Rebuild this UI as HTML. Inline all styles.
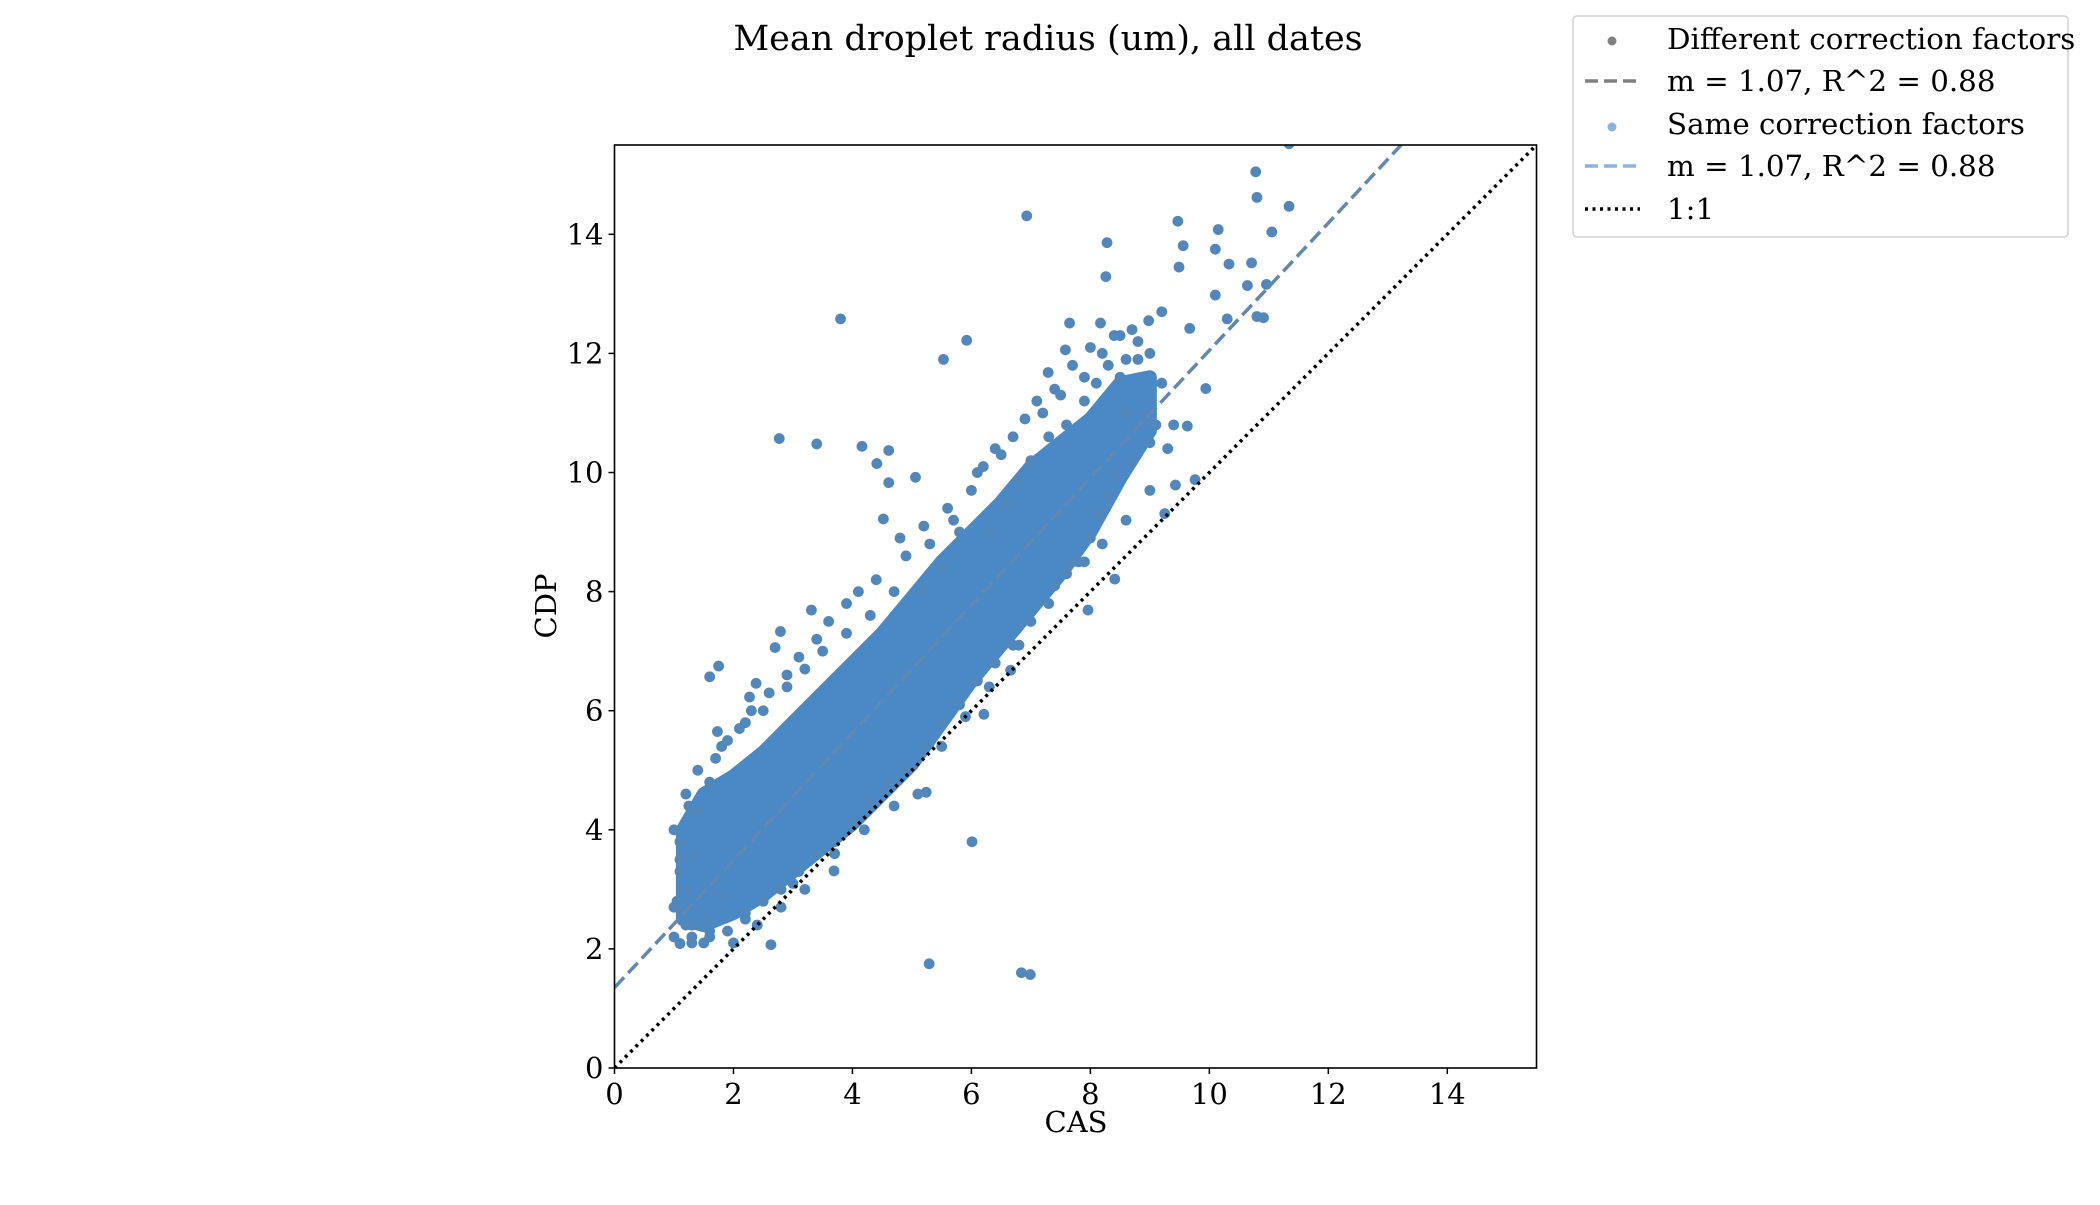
<!DOCTYPE html>
<html><head><meta charset="utf-8">
<style>
html,body{margin:0;padding:0;background:#fff;}
svg text{font-family:"DejaVu Serif","Liberation Serif",serif;fill:#000;}
</style></head>
<body>
<svg id="chart" width="2100" height="1200" viewBox="0 0 2100 1200" xmlns="http://www.w3.org/2000/svg">
<text x="1048" y="50" font-size="35" text-anchor="middle">Mean droplet radius (um), all dates</text>
<g id="plot"></g>
<rect x="614.5" y="145" width="922" height="923" fill="none" stroke="#000" stroke-width="1.6"/>
<g id="ticks"></g>
<text x="1076" y="1132" font-size="29" text-anchor="middle">CAS</text>
<text x="556" y="606" font-size="29" text-anchor="middle" transform="rotate(-90 556 606)">CDP</text>
<g>
<rect x="1573" y="16" width="495" height="221" rx="4" fill="#fff" stroke="#d0d0d0" stroke-width="1.5"/>
<circle cx="1612" cy="41" r="4.5" fill="#808080"/>
<text x="1667" y="49" font-size="29.3">Different correction factors</text>
<line x1="1585" y1="81" x2="1640" y2="81" stroke="#808080" stroke-width="3.5" stroke-dasharray="13 6"/>
<text x="1667" y="91" font-size="29.3">m = 1.07, R^2 = 0.88</text>
<circle cx="1612" cy="127" r="4.5" fill="#8ab4e0"/>
<text x="1667" y="134" font-size="29.3">Same correction factors</text>
<line x1="1585" y1="166" x2="1640" y2="166" stroke="#8ab4e0" stroke-width="3.5" stroke-dasharray="13 6"/>
<text x="1667" y="176" font-size="29.3">m = 1.07, R^2 = 0.88</text>
<line x1="1585" y1="209" x2="1640" y2="209" stroke="#000" stroke-width="3.5" stroke-dasharray="3 4.5"/>
<text x="1667" y="219" font-size="29.3">1:1</text>
</g>
</svg>
<script>
const xTicks=[0,2,4,6,8,10,12,14];
const yTicks=[0,2,4,6,8,10,12,14];
const domainMax=15.5;
const fitSlope=1.07;
const fitIntercept=1.35;
// dense core of points: CAS values with CDP lower/upper bounds
const bandX=[1.15,1.5,2.0,2.5,3.0,3.5,4.0,4.5,5.0,5.5,6.0,6.5,7.0,7.5,8.0,8.5,9.0];
const bandLow=[2.5,2.4,2.6,2.9,3.3,3.7,4.1,4.6,5.1,5.8,6.5,7.1,7.7,8.3,9.0,9.9,10.7];
const bandHigh=[4.0,4.6,4.9,5.3,5.8,6.3,6.8,7.3,7.9,8.5,9.0,9.5,10.1,10.5,10.9,11.5,11.6];
const ptsX=[11.34,10.78,6.93,9.47,10.15,10.80,11.05,11.34,8.28,9.56,10.10,10.33,10.71,9.49,8.26,10.10,10.64,10.96,3.80,7.65,8.17,8.98,9.67,10.30,10.80,10.91,5.92,5.53,7.58,7.29,9.94,9.63,2.77,3.40,4.16,4.61,4.41,5.06,4.61,4.52,9.43,9.76,9.25,8.41,7.96,6.66,6.21,2.70,2.79,3.31,1.75,1.60,2.27,2.38,1.73,4.23,6.01,5.24,3.69,2.63,5.29,6.84,6.99,1.10,
6.3,6.6,6.8,7.0,7.3,7.6,7.9,8.1,8.3,8.6,8.8,9.0,9.2,8.9,9.1,9.3,8.7,8.4,9.4,9.0,8.6,8.2,7.9,8.1,7.6,5.8,5.5,5.2,4.7,4.3,3.9,3.5,3.2,2.9,2.5,2.2,1.8,1.4,1.2,1.1,1.0,1.3,1.6,2.0,2.4,2.8,3.2,3.7,4.2,4.7,5.1,5.5,5.9,6.3,6.8,7.3,7.8,6.4,6.1,7.2,7.5,8.5,9.2,
1.0,1.05,1.1,1.0,1.15,1.2,1.3,1.25,1.1,1.4,1.5,1.35,1.2,1.6,1.7,1.55,1.9,2.1,1.8,2.3,2.6,2.2,2.9,3.1,3.4,3.0,3.6,3.9,4.1,4.4,4.8,4.9,5.2,5.3,5.6,5.7,6.0,6.2,6.5,6.7,6.9,7.1,7.4,7.7,7.9,8.0,8.2,8.4,8.5,8.7,8.8,8.6,8.9,9.0,8.3,8.0,7.7,7.4,7.0,6.7,6.4,6.1,5.8,5.5,5.2,4.9,4.6,4.3,4.0,3.7,3.4,3.1,2.8,2.5,2.2,1.9,1.6,1.3];
const ptsY=[15.52,15.05,14.31,14.22,14.08,14.62,14.04,14.47,13.86,13.81,13.75,13.50,13.52,13.45,13.29,12.98,13.14,13.16,12.58,12.51,12.51,12.55,12.42,12.58,12.62,12.60,12.22,11.90,12.06,11.68,11.41,10.78,10.57,10.48,10.44,10.37,10.15,9.92,9.83,9.22,9.79,9.88,9.31,8.21,7.69,6.68,5.94,7.06,7.33,7.69,6.75,6.57,6.23,6.46,5.65,4.50,3.80,4.63,3.31,2.07,1.75,1.60,1.57,2.09,
9.0,9.5,9.9,10.2,10.6,10.8,11.2,11.5,11.8,11.9,12.2,12.0,11.5,11.0,10.8,10.4,10.2,10.0,10.8,9.7,9.2,8.8,8.5,9.3,8.3,9.0,8.4,8.0,8.0,7.6,7.3,7.0,6.7,6.4,6.0,5.8,5.4,5.0,4.6,3.3,2.7,2.1,2.3,2.1,2.4,2.7,3.0,3.6,4.0,4.4,4.6,5.4,5.9,6.4,7.1,7.8,8.5,10.4,10.0,11.0,11.3,12.3,12.7,
2.2,2.8,3.5,4.0,2.6,3.0,2.2,4.4,3.8,4.3,2.1,3.6,2.4,4.8,5.2,2.5,5.5,5.7,2.9,6.0,6.3,2.6,6.6,6.9,7.2,3.1,7.5,7.8,8.0,8.2,8.9,8.6,9.1,8.8,9.4,9.2,9.7,10.1,10.3,10.6,10.9,11.2,11.4,11.8,11.6,12.1,12.0,12.3,11.6,12.4,11.9,11.0,10.9,10.5,9.6,8.9,8.5,8.1,7.5,7.1,6.8,6.5,6.1,5.8,5.4,5.0,4.8,4.4,4.1,3.8,3.6,3.3,3.0,2.8,2.5,2.3,2.2,2.4];

const L=614.5,T=145,W=922,H=923;
function sx(v){return L+v/domainMax*W;}
function sy(v){return T+H-v/domainMax*H;}
const NS='http://www.w3.org/2000/svg';
const plot=document.getElementById('plot');
const ticks=document.getElementById('ticks');
function mk(tag,attrs,parent){const e=document.createElementNS(NS,tag);for(const k in attrs)e.setAttribute(k,attrs[k]);parent.appendChild(e);return e;}

const clip=mk('clipPath',{id:'clipA'},plot);
mk('rect',{x:L,y:T,width:W,height:H},clip);
const g=mk('g',{'clip-path':'url(#clipA)'},plot);

let d='';
bandX.forEach((x,i)=>{d+=(i?'L':'M')+sx(x)+' '+sy(bandHigh[i]);});
for(let i=bandX.length-1;i>=0;i--)d+='L'+sx(bandX[i])+' '+sy(bandLow[i]);
d+='Z';
const band=mk('path',{d:d,fill:'#4a89c6',stroke:'#4a89c6','stroke-width':14,'stroke-linejoin':'round'},g);



ptsX.forEach((x,i)=>{
  const c=mk('circle',{cx:sx(x),cy:sy(ptsY[i]),r:5.4,fill:'#5287bb'},g);
  
  
});

const xEnd=(domainMax-fitIntercept)/fitSlope;
const fit=mk('line',{x1:sx(0),y1:sy(fitIntercept),x2:sx(xEnd),y2:sy(domainMax),stroke:'#6189b0','stroke-width':3.5,'stroke-dasharray':'14 6'},g);



const one=mk('line',{x1:sx(0),y1:sy(0),x2:sx(domainMax),y2:sy(domainMax),stroke:'#000','stroke-width':3.5,'stroke-dasharray':'3 4.5'},g);



xTicks.forEach(v=>{
  const t=mk('line',{x1:sx(v),y1:T+H,x2:sx(v),y2:T+H+6,stroke:'#000','stroke-width':1.5},ticks);
  
  
  const l=mk('text',{x:sx(v),y:T+H+36,'font-size':29,'text-anchor':'middle'},ticks);
  l.textContent=v;
  
  
});
yTicks.forEach(v=>{
  const t=mk('line',{x1:L-6,y1:sy(v),x2:L,y2:sy(v),stroke:'#000','stroke-width':1.5},ticks);
  
  
  const l=mk('text',{x:L-11,y:sy(v)+10,'font-size':29,'text-anchor':'end'},ticks);
  l.textContent=v;
  
  
});
</script>
</body></html>
